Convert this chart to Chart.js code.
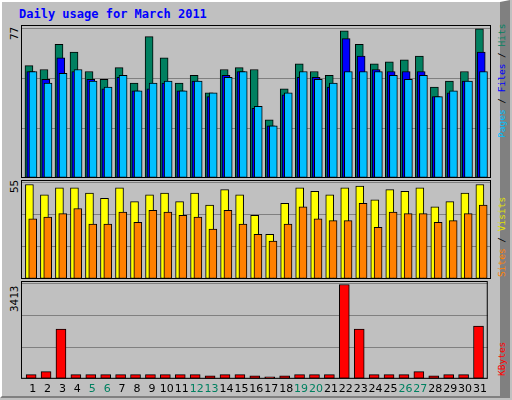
<!DOCTYPE html>
<html>
<head>
<meta charset="utf-8">
<script src="https://cdn.jsdelivr.net/npm/chart.js@4"></script>
<style>
  body { margin: 0; width: 512px; height: 400px; background: #c0c0c0; overflow: hidden; font-family: "DejaVu Sans Mono", monospace; }
  #frame { position: absolute; left: 0; top: 0; width: 498px; height: 394px; border-top: 2px solid #fff; border-left: 2px solid #fff; border-right: 10px solid #808080; border-bottom: 2px solid #808080; }
  .box { position: absolute; }
  .title { position: absolute; left: 19px; top: 7px; color: #0000ff; font-weight: bold; font-size: 12px; }
  .vlab { position: absolute; transform-origin: left top; transform: rotate(-90deg); font-size: 11px; white-space: nowrap; }
  .leg { font-size: 9.5px; }
</style>
</head>
<body>
<div id="frame"></div>
<div class="title">Daily usage for March 2011</div>
<div class="box" style="left:21px;top:25px;width:470px;height:153px"><canvas id="c1"></canvas></div>
<div class="box" style="left:21px;top:180px;width:470px;height:99px"><canvas id="c2"></canvas></div>
<div class="box" style="left:21px;top:281px;width:470px;height:119px"><canvas id="c3"></canvas></div>

<div class="vlab" style="left:8px;top:40px">77</div>
<div class="vlab" style="left:8px;top:193px">55</div>
<div class="vlab" style="left:8px;top:312px">3413</div>
<div class="vlab leg" style="left:496px;top:138px"><span style="color:#00c0ff">Pages</span> / <span style="color:#0000ff">Files</span> / <span style="color:#008060">Hits</span></div>
<div class="vlab leg" style="left:496px;top:277px"><span style="color:#ff8000">Sites</span> / <span style="color:#e0e000">Visits</span></div>
<div class="vlab leg" style="left:496px;top:376px"><span style="color:#ff0000">KBytes</span></div>

<script>
const days = Array.from({length: 31}, (_, i) => i + 1);
const weekend = [5, 6, 12, 13, 19, 20, 26, 27];

const hits = [58, 56, 69, 65, 55, 51, 57, 49, 73, 62, 49, 53, 44, 56, 57, 56, 30, 46, 59, 55, 53, 76, 69, 59, 60, 61, 63, 47, 50, 55, 77];
const files = [55, 51, 62, 55, 51, 46, 52, 45, 46, 49, 45, 50, 42, 53, 55, 36, 27, 43, 52, 52, 47, 72, 63, 56, 55, 55, 55, 42, 44, 50, 65];
const pages = [55, 49, 54, 56, 50, 47, 53, 45, 49, 50, 45, 50, 44, 52, 55, 37, 27, 44, 55, 51, 49, 55, 55, 55, 53, 51, 53, 42, 45, 50, 55];
const visits = [55, 49, 53, 53, 50, 47, 53, 45, 49, 50, 45, 50, 43, 52, 49, 37, 26, 44, 53, 51, 49, 53, 54, 46, 52, 51, 53, 42, 45, 50, 55];
const sites = [35, 36, 38, 41, 32, 32, 39, 33, 40, 39, 37, 36, 29, 40, 32, 26, 22, 32, 42, 35, 34, 34, 44, 30, 39, 38, 38, 33, 34, 38, 43];
const kbytes = [150, 262, 1800, 150, 150, 150, 150, 150, 150, 150, 150, 150, 112, 150, 150, 112, 75, 112, 150, 150, 150, 3413, 1800, 150, 150, 150, 262, 112, 150, 150, 1910];

const plotBorder = {
  id: 'plotBorder',
  afterDraw(chart) {
    const a = chart.chartArea, ctx = chart.ctx;
    ctx.save();
    ctx.strokeStyle = '#000';
    ctx.lineWidth = 1;
    ctx.strokeRect(a.left + 0.5, a.top + 0.5, a.width - 1, a.height - 1);
    ctx.restore();
  }
};

function series(values, shift, color, width, order) {
  return {
    data: values.map((v, i) => ({x: days[i] + shift, y: v})),
    backgroundColor: color, borderColor: '#000', borderWidth: 1, borderSkipped: false,
    barThickness: width, grouped: false, order: order
  };
}

function makeChart(id, datasets, top, showX) {
  return new Chart(document.getElementById(id), {
    type: 'bar',
    data: {datasets: datasets},
    plugins: [plotBorder],
    options: {
      animation: false, responsive: true, maintainAspectRatio: false,
      layout: {padding: 0},
      plugins: {legend: {display: false}, tooltip: {enabled: false}},
      scales: {
        x: {
          type: 'linear', min: 0, max: 31.3, offset: false,
          grid: {display: false, drawTicks: false}, border: {display: false},
          afterBuildTicks: ax => { ax.ticks = days.map(d => ({value: d - 0.22})); },
          ticks: {
            display: showX, padding: 4, autoSkip: false, maxRotation: 0,
            font: {family: 'DejaVu Sans', size: 11},
            color: c => weekend.includes(c.index + 1) ? '#008060' : '#000',
            callback: (v, i) => String(days[i])
          }
        },
        y: {
          min: 0, max: top,
          afterBuildTicks: ax => { ax.ticks = [0, 1, 2, 3].map(k => ({value: top * k / 3 * 0.975})); },
          grid: {color: '#808080', drawTicks: false}, border: {display: false},
          ticks: {display: false}
        }
      }
    }
  });
}

makeChart('c1', [
  series(hits, -0.47, '#008060', 8, 3),
  series(files, -0.35, '#0000ff', 8, 2),
  series(pages, -0.2, '#00c0ff', 8, 1)
], 79, false);

makeChart('c2', [
  series(visits, -0.44, '#ffff00', 8, 2),
  series(sites, -0.22, '#ff8000', 8, 1)
], 57.6, false);

makeChart('c3', [
  series(kbytes, -0.32, '#ff0000', 10, 1)
], 3540, true);
</script>
</body>
</html>
